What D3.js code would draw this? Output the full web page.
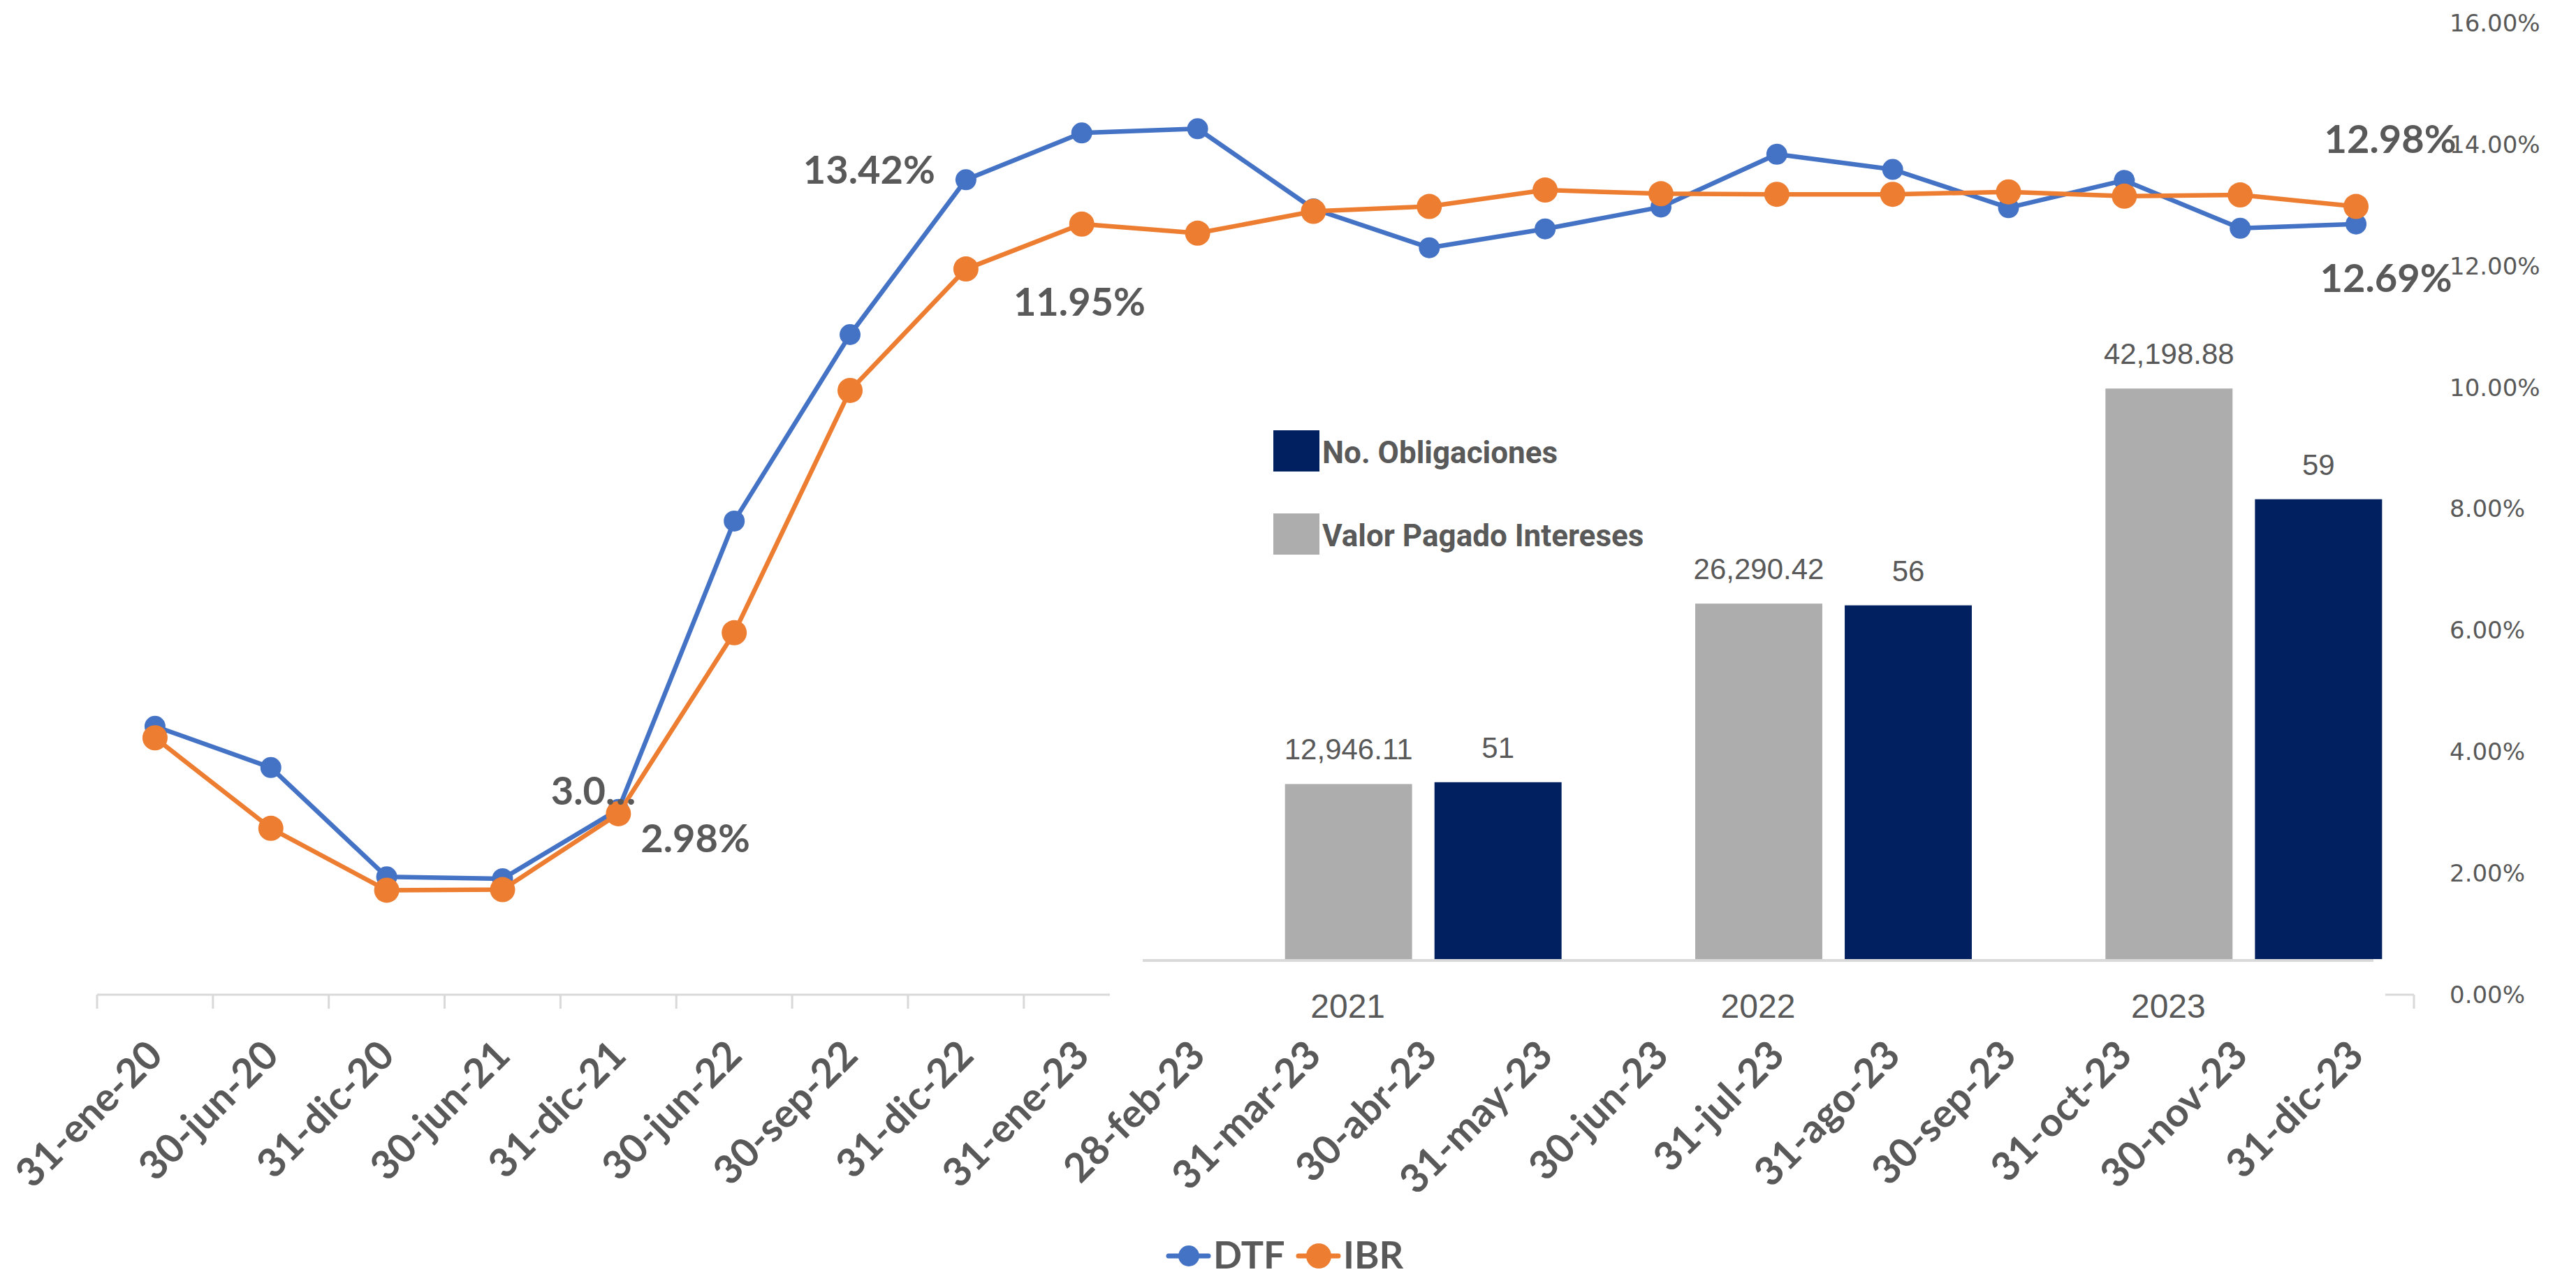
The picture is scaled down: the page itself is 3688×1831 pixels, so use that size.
<!DOCTYPE html>
<html>
<head>
<meta charset="utf-8">
<script src="https://cdn.jsdelivr.net/npm/d3@7/dist/d3.min.js"></script>
<style>
  html, body { margin: 0; padding: 0; background: #ffffff; }
  svg { display: block; }
</style>
</head>
<body>
<script>
// ---------------- DATA ----------------
const categories = ["31-ene-20","30-jun-20","31-dic-20","30-jun-21","31-dic-21","30-jun-22","30-sep-22","31-dic-22","31-ene-23","28-feb-23","31-mar-23","30-abr-23","31-may-23","30-jun-23","31-jul-23","31-ago-23","30-sep-23","31-oct-23","30-nov-23","31-dic-23"];
const dtf = [4.42, 3.74, 1.94, 1.91, 3.05, 7.80, 10.87, 13.42, 14.19, 14.26, 12.94, 12.30, 12.61, 12.97, 13.84, 13.59, 12.96, 13.41, 12.62, 12.69];
const ibr = [4.23, 2.74, 1.72, 1.73, 2.98, 5.96, 9.95, 11.95, 12.69, 12.54, 12.90, 12.98, 13.25, 13.19, 13.18, 13.18, 13.22, 13.15, 13.17, 12.98];
const rateTicks = [0, 2, 4, 6, 8, 10, 12, 14, 16];

const years = ["2021", "2022", "2023"];
const valorPagadoIntereses = [12946.11, 26290.42, 42198.88];
const noObligaciones = [51, 56, 59];

// ---------------- LAYOUT / STYLE ----------------
const W = 3688, H = 1831;
const C = { blue: "#4472C4", orange: "#ED7D31", navy: "#002060", gray: "#ADADAD", text: "#595959", axis: "#D9D9D9" };
const plot = { left: 139, right: 3456, top: 33, bottom: 1424 };
const inset = { left: 1589, right: 3415, top: 470, bottom: 1470, axisLeft: 1636, axisRight: 3398, base: 1373, top2: 502 };

const svg = d3.select("body").append("svg").attr("width", W).attr("height", H);
svg.append("rect").attr("width", W).attr("height", H).attr("fill", "#fff");

// ---------------- LINE CHART ----------------
const x = d3.scaleBand().domain(categories).range([plot.left, plot.right]);
const y = d3.scaleLinear().domain([0, 16]).range([plot.bottom, plot.top]);
const cx = d => x(d) + x.bandwidth() / 2;

// right axis labels
svg.append("g").selectAll("text").data(rateTicks).join("text")
  .attr("x", 3507).attr("y", d => y(d)).attr("dy", "0.35em")
  .attr("font-family", "DejaVu Sans").attr("font-size", 34).attr("fill", C.text)
  .text(d => d.toFixed(2) + "%");

// bottom category axis
const xAxisG = svg.append("g");
xAxisG.append("line").attr("x1", plot.left).attr("x2", plot.right)
  .attr("y1", plot.bottom).attr("y2", plot.bottom).attr("stroke", C.axis).attr("stroke-width", 3);
const bounds = categories.map(c => x(c)).concat([plot.right]);
xAxisG.selectAll("line.tick").data(bounds).join("line").attr("class", "tick")
  .attr("x1", d => d).attr("x2", d => d).attr("y1", plot.bottom).attr("y2", plot.bottom + 20)
  .attr("stroke", C.axis).attr("stroke-width", 3);
xAxisG.selectAll("text").data(categories).join("text")
  .attr("transform", d => `translate(${cx(d) + 14},${1514}) rotate(-45)`)
  .attr("text-anchor", "end")
  .attr("font-family", "Lato").attr("font-weight", "bold").attr("font-size", 57).attr("fill", C.text)
  .text(d => d);

// lines
const series = [
  { name: "DTF", values: dtf, color: C.blue, r: 15 },
  { name: "IBR", values: ibr, color: C.orange, r: 18 }
];
const lineGen = d3.line().x((d, i) => cx(categories[i])).y(d => y(d));
series.forEach(s => {
  const g = svg.append("g");
  g.append("path").datum(s.values).attr("d", lineGen)
    .attr("fill", "none").attr("stroke", s.color).attr("stroke-width", 6.5).attr("stroke-linejoin", "round");
  g.selectAll("circle").data(s.values).join("circle")
    .attr("cx", (d, i) => cx(categories[i])).attr("cy", d => y(d)).attr("r", s.r).attr("fill", s.color);
});

// ---------------- INSET BAR CHART (overlay) ----------------
const inG = svg.append("g");
inG.append("rect").attr("x", inset.left).attr("y", inset.top)
  .attr("width", inset.right - inset.left).attr("height", inset.bottom - inset.top).attr("fill", "#fff");

const x0 = d3.scaleBand().domain(years).range([inset.axisLeft, inset.axisRight]);
const x1 = d3.scaleBand().domain(["valor", "oblig"]).range([-90, 306]).paddingInner(0.15);
const yValor = d3.scaleLinear().domain([0, 45000]).range([inset.base, inset.top2]);
const yOblig = d3.scaleLinear().domain([46, 63.2]).range([inset.base, inset.top2]);
const fmtValor = d3.format(",.2f");

const bars = [
  { key: "valor", values: valorPagadoIntereses, scale: yValor, color: C.gray, fmt: fmtValor },
  { key: "oblig", values: noObligaciones, scale: yOblig, color: C.navy, fmt: d => String(d) }
];
bars.forEach(b => {
  const gb = inG.append("g");
  gb.selectAll("rect").data(b.values).join("rect")
    .attr("x", (d, i) => x0(years[i]) + x0.bandwidth() / 2 + x1(b.key))
    .attr("width", x1.bandwidth())
    .attr("y", d => b.scale(d))
    .attr("height", d => inset.base - b.scale(d))
    .attr("fill", b.color);
  gb.selectAll("text").data(b.values).join("text")
    .attr("x", (d, i) => x0(years[i]) + x0.bandwidth() / 2 + x1(b.key) + x1.bandwidth() / 2)
    .attr("y", d => b.scale(d) - 35)
    .attr("text-anchor", "middle")
    .attr("font-family", "Liberation Sans").attr("font-size", 42).attr("fill", C.text)
    .text(d => b.fmt(d));
});
inG.append("line").attr("x1", inset.axisLeft).attr("x2", inset.axisRight)
  .attr("y1", inset.base + 2).attr("y2", inset.base + 2).attr("stroke", C.axis).attr("stroke-width", 4);
inG.selectAll("text.year").data(years).join("text").attr("class", "year")
  .attr("x", d => x0(d) + x0.bandwidth() / 2).attr("y", 1457)
  .attr("text-anchor", "middle")
  .attr("font-family", "Liberation Sans").attr("font-size", 48).attr("fill", C.text)
  .text(d => d);

// inset legend
const insetLegend = [
  { label: "No. Obligaciones", color: C.navy },
  { label: "Valor Pagado Intereses", color: C.gray }
];
const lg = inG.selectAll("g.leg").data(insetLegend).join("g").attr("class", "leg")
  .attr("transform", (d, i) => `translate(1823,${616 + i * 119})`);
lg.append("rect").attr("width", 66).attr("height", 59).attr("fill", d => d.color);
lg.append("text").attr("x", 70).attr("y", 47)
  .attr("font-family", "Roboto").attr("font-weight", "bold").attr("font-size", 44).attr("fill", C.text)
  .text(d => d.label);

// ---------------- LINE DATA LABELS ----------------
const labelFont = g => g.attr("font-family", "Lato").attr("font-weight", "bold").attr("font-size", 56).attr("fill", C.text);
const lineLabels = [
  { s: dtf, i: 7, text: "13.42%", anchor: "end", dx: -44, dy: 6 },
  { s: ibr, i: 7, text: "11.95%", anchor: "start", dx: 68, dy: 67 },
  { s: dtf, i: 4, text: "3.0…", anchor: "end", dx: 25, dy: -7 },
  { s: ibr, i: 4, text: "2.98%", anchor: "start", dx: 32, dy: 55 },
  { s: ibr, i: 19, text: "12.98%", anchor: "middle", dx: 49, dy: -77 },
  { s: dtf, i: 19, text: "12.69%", anchor: "middle", dx: 43, dy: 97 }
];
svg.append("g").selectAll("text").data(lineLabels).join("text")
  .attr("x", d => cx(categories[d.i]) + d.dx)
  .attr("y", d => y(d.s[d.i]) + d.dy)
  .attr("text-anchor", d => d.anchor)
  .call(labelFont)
  .text(d => d.text);

// ---------------- BOTTOM LEGEND ----------------
const legItems = [
  { name: "DTF", color: C.blue, r: 15, x: 1673 },
  { name: "IBR", color: C.orange, r: 18, x: 1859 }
];
const bl = svg.append("g").selectAll("g").data(legItems).join("g")
  .attr("transform", d => `translate(${d.x},1798)`);
bl.append("line").attr("x1", 0).attr("x2", 57).attr("stroke", d => d.color).attr("stroke-width", 7).attr("stroke-linecap", "round");
bl.append("circle").attr("cx", 29).attr("r", d => d.r).attr("fill", d => d.color);
bl.append("text").attr("x", 64).attr("y", 18)
  .attr("font-family", "Lato").attr("font-weight", "bold").attr("font-size", 54).attr("fill", C.text)
  .text(d => d.name);
</script>
</body>
</html>
